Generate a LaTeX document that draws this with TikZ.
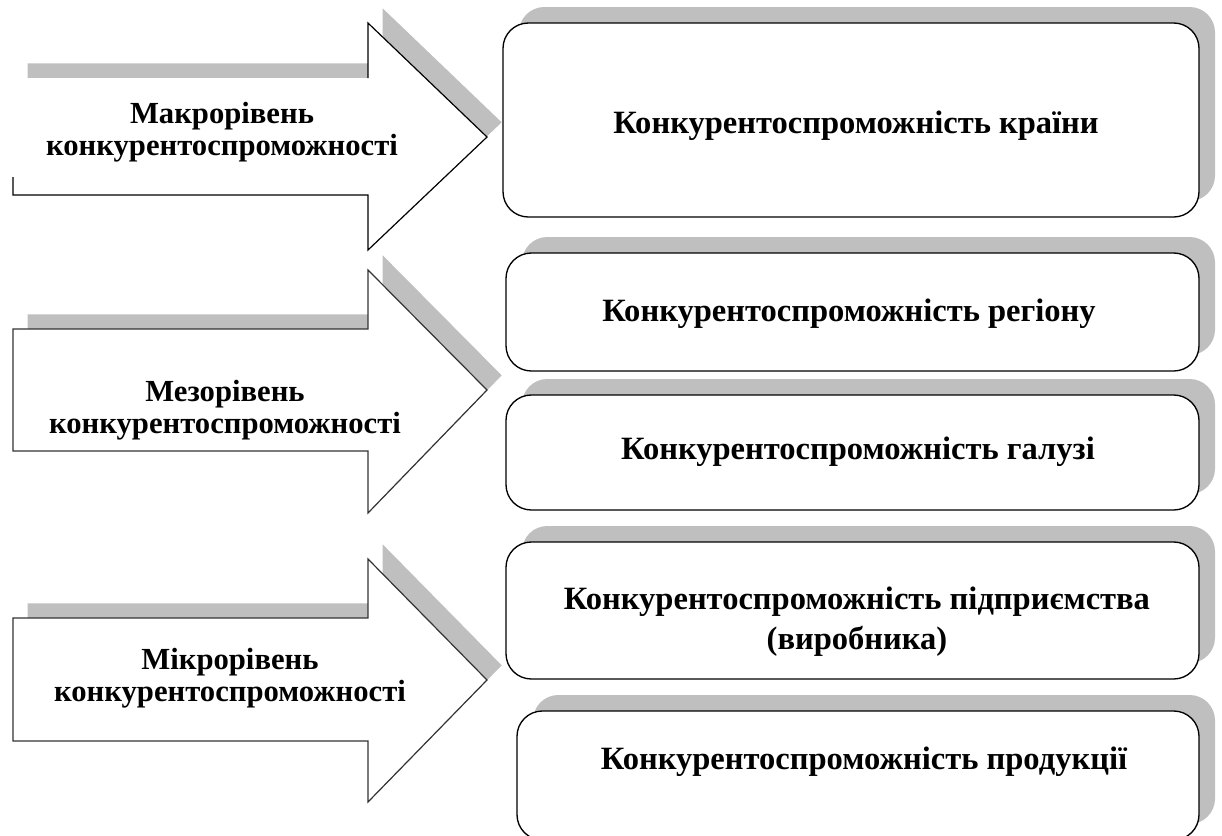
\documentclass[tikz,border=0pt]{standalone}
\usepackage{fontspec}
\setmainfont{Liberation Serif}
\tikzset{
  levelbox/.style={draw, line width=1pt, fill=white, rounded corners=19pt},
  boxshadow/.style={fill=black!25, draw=none, rounded corners=19pt, xshift=12pt, yshift=12pt},
  levelarrow/.style={draw=black!80, line width=0.9pt, fill=white},
  arrowshadow/.style={fill=black!25, draw=none, xshift=11pt, yshift=11pt},
  leveltext/.style={font=\bfseries\fontsize{23}{24}\selectfont, align=center},
  boxtext/.style={font=\bfseries\fontsize{24.4}{30}\selectfont, align=center}
}

\begin{document}
\begin{tikzpicture}[x=0.75pt, y=-0.75pt]
  \useasboundingbox (0,0) rectangle (1222,836);

  % arrows on the left
  \foreach \t/\h/\b/\s/\e in {78/23/137/195/250, 329/270/390/451/513, 618/559/680/741/802}
    \path[arrowshadow] (13,\t) -- (368,\t) -- (368,\h) -- (487,\b) -- (368,\e) -- (368,\s) -- (13,\s) -- cycle;

  \path[levelarrow, draw=none] (13,78) -- (368,78) -- (368,23) -- (487,137) -- (368,250) -- (368,195) -- (13,195) -- cycle;
  \draw[line width=0.9pt] (13,177) -- (13,195) -- (368,195) -- (368,250) -- (487,137) -- (368,23) -- (368,78);
  \path[levelarrow] (13,329) -- (368,329) -- (368,270) -- (487,390) -- (368,513) -- (368,451) -- (13,451) -- cycle;
  \path[levelarrow] (13,618) -- (368,618) -- (368,559) -- (487,680) -- (368,802) -- (368,741) -- (13,741) -- cycle;

  \node[leveltext] (macro) at (222,132) {Макрорівень\\конкурентоспроможності};
  \node[leveltext] (meso) at (225,410) {Мезорівень\\конкурентоспроможності};
  \node[leveltext] (micro) at (230,678) {Мікрорівень\\конкурентоспроможності};

  % boxes on the right
  \foreach \l/\t/\b in {503/23/217, 506/253/371, 506/395/510, 506/542/679, 517/711/840}
    \path[boxshadow] (\l,\t) rectangle (1199,\b);

  \path[levelbox] (503,23) rectangle (1199,217);
  \path[levelbox] (506,253) rectangle (1199,371);
  \path[levelbox] (506,395) rectangle (1199,510);
  \path[levelbox] (506,542) rectangle (1199,679);
  \path[levelbox] (517,711) rectangle (1199,840);

  \node[boxtext] (country) at (856,126) {Конкурентоспроможність країни};
  \node[boxtext] (region) at (849,314) {Конкурентоспроможність регіону};
  \node[boxtext] (branch) at (858,452) {Конкурентоспроможність галузі};
  \node[boxtext] (firm) at (857,622) {Конкурентоспроможність підприємства\\(виробника)};
  \node[boxtext] (product) at (864,762) {Конкурентоспроможність продукції};
\end{tikzpicture}
\end{document}
